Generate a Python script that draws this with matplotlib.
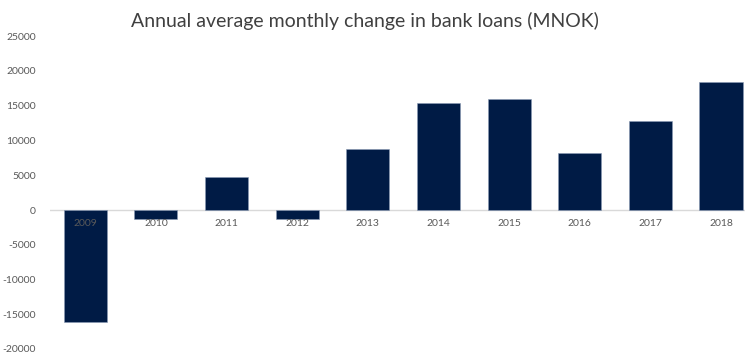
import numpy as np
import matplotlib.pyplot as plt

years = ['2009', '2010', '2011', '2012', '2013', '2014', '2015', '2016', '2017', '2018']
change = [-16150, -1340, 4800, -1280, 8750, 15450, 15950, 8200, 12800, 18450]
yticks = [25000, 20000, 15000, 10000, 5000, 0, -5000, -10000, -15000, -20000]

plt.rcParams['font.family'] = ['Lato', 'DejaVu Sans']

fig = plt.figure(figsize=(7.45, 3.56), dpi=100)
ax = fig.add_axes([50 / 745, 7 / 356, 695 / 745, 312.75 / 356])

x = np.arange(len(years))
ax.bar(x, change, width=0.61, color='#001b45', edgecolor='#8a9bb5', linewidth=0.4, zorder=2)
ax.axhline(0, color='#d9d9d9', linewidth=1, zorder=1)

ax.set_xlim(-0.5, 9.34)
ax.set_ylim(-20000, 25000)
ax.set_yticks(yticks)
ax.set_yticklabels([str(v) for v in yticks], fontsize=7.5, color='#595959')
ax.tick_params(axis='y', length=0, pad=10)
ax.set_xticks([])

# year labels sit just under the zero line, inside the plot
for xi, yr in zip(x, years):
    ax.text(xi, -1300, yr, ha='center', va='top', fontsize=7.5, color='#595959', zorder=3)

for s in ax.spines.values():
    s.set_visible(False)

fig.text(0.49, 0.94, 'Annual average monthly change in bank loans (MNOK)',
         ha='center', va='center', fontsize=14, color='#404040')

fig.savefig('out.png', dpi=100)
